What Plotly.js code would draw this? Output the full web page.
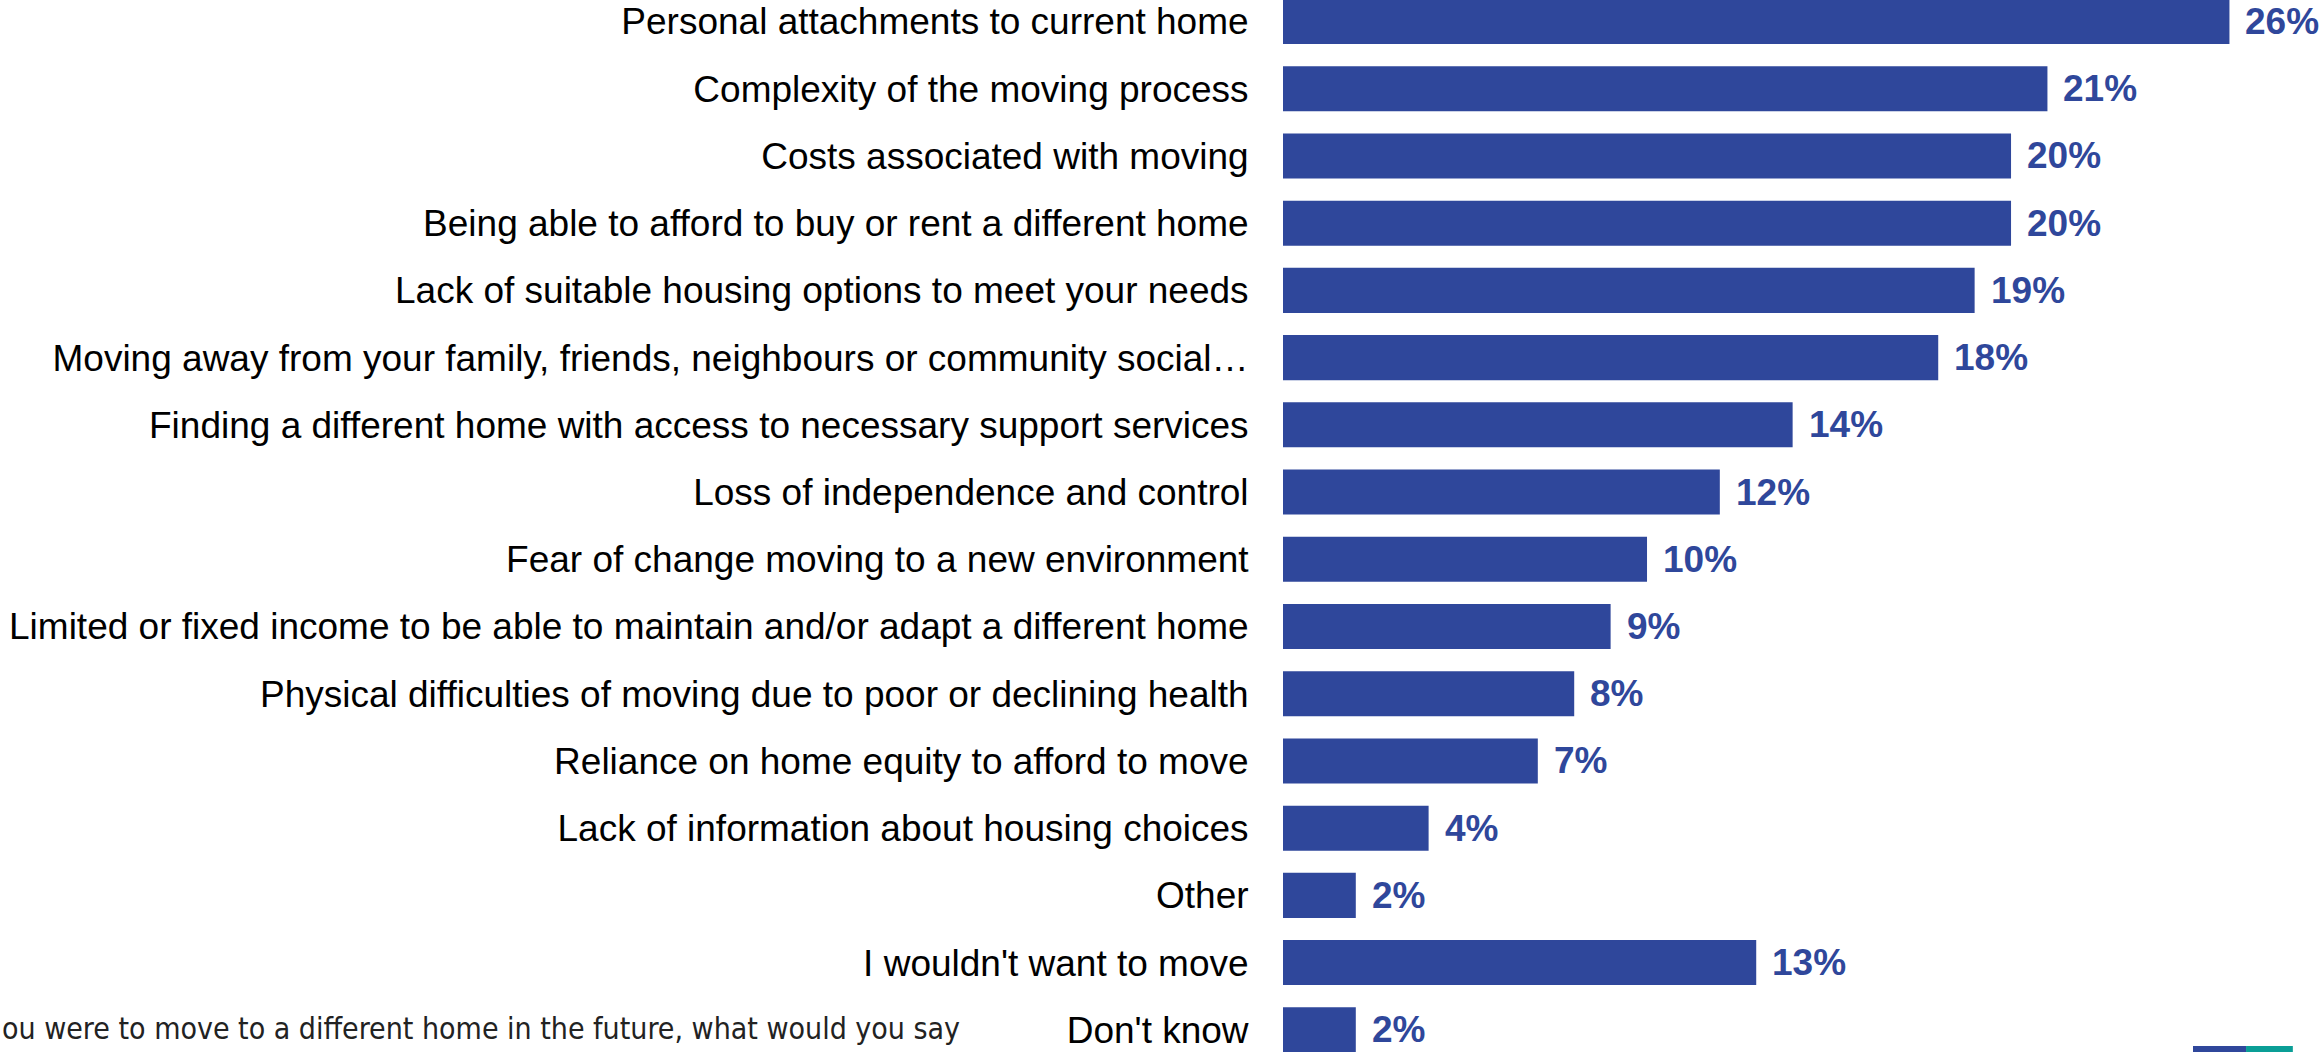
<!DOCTYPE html>
<html>
<head>
<meta charset="utf-8">
<script src="https://cdn.plot.ly/plotly-3.0.1.min.js"></script>
<style>html,body{margin:0;padding:0;background:#fff;}#chart{width:2323px;height:1052px;}</style>
</head>
<body>
<div id="chart"></div>
<script>
const categories = [
  "Personal attachments to current home",
  "Complexity of the moving process",
  "Costs associated with moving",
  "Being able to afford to buy or rent a different home",
  "Lack of suitable housing options to meet your needs",
  "Moving away from your family, friends, neighbours or community social…",
  "Finding a different home with access to necessary support services",
  "Loss of independence and control",
  "Fear of change moving to a new environment",
  "Limited or fixed income to be able to maintain and/or adapt a different home",
  "Physical difficulties of moving due to poor or declining health",
  "Reliance on home equity to afford to move",
  "Lack of information about housing choices",
  "Other",
  "I wouldn't want to move",
  "Don't know"
];
const values = [26, 21, 20, 20, 19, 18, 14, 12, 10, 9, 8, 7, 4, 2, 13, 2];
const footnote = "ou were to move to a different home in the future, what would you say";

const BLUE = '#2f479b';

const trace = {
  type: 'bar',
  orientation: 'h',
  x: values,
  y: categories,
  marker: { color: BLUE },
  hoverinfo: 'none',
  cliponaxis: false
};

const annotations = values.map((v, i) => ({
  x: v, y: categories[i], xref: 'x', yref: 'y',
  text: '<b>' + v + '%</b>', showarrow: false, xanchor: 'left', yanchor: 'middle',
  xshift: 14,
  font: { family: 'Liberation Sans, Arial, sans-serif', size: 37, color: BLUE }
}));

annotations.push({
  x: 0, y: 0, xref: 'paper', yref: 'paper', xanchor: 'left', yanchor: 'bottom',
  xshift: -1283, yshift: 4,
  text: footnote, showarrow: false,
  font: { family: 'Liberation Sans Narrow, DejaVu Sans Condensed, sans-serif', size: 30, color: '#222' }
});

const layout = {
  width: 2323, height: 1052,
  margin: { l: 1283, r: 0, t: 0, b: 0, pad: 0 },
  paper_bgcolor: '#fff', plot_bgcolor: '#fff',
  showlegend: false,
  bargap: 0.33,
  xaxis: { range: [0, 28.57], visible: false, fixedrange: true },
  yaxis: {
    type: 'category',
    range: [15.33, -0.32],
    showgrid: false, zeroline: false, showline: false,
    ticks: 'outside', ticklen: 26, tickcolor: 'rgba(0,0,0,0)',
    tickfont: { family: 'Liberation Sans, Arial, sans-serif', size: 37, color: '#000' },
    automargin: false
  },
  annotations: annotations,
  shapes: [
    { type: 'rect', xref: 'paper', yref: 'paper', x0: 0.875, x1: 0.926, y0: 0, y1: 0.0057, fillcolor: BLUE, line: { width: 0 } },
    { type: 'rect', xref: 'paper', yref: 'paper', x0: 0.926, x1: 0.971, y0: 0, y1: 0.0057, fillcolor: '#0a9e96', line: { width: 0 } }
  ]
};

Plotly.newPlot('chart', [trace], layout, { displayModeBar: false, staticPlot: true });
</script>
</body>
</html>
